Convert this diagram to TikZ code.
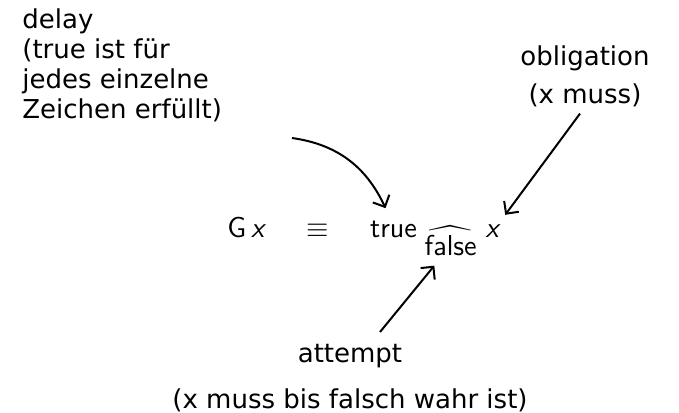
\documentclass[tikz,border=0pt]{standalone}
\usepackage{fontspec}
\usepackage{amsmath}
\newfontfamily\handfont{DejaVu Sans}
\usetikzlibrary{arrows.meta,positioning}

\begin{document}
\begin{tikzpicture}[
  x=0.5pt, y=-0.5pt,
  node distance=8mm,
  hand/.style={inner sep=0pt, font=\handfont\fontsize{13}{15}\selectfont},
  term/.style={inner sep=0pt, font=\sffamily\fontsize{14.4}{17}\selectfont},
  arr/.style={-{Straight Barb[length=1.6mm, width=3.2mm]}, line width=1pt}
]
\useasboundingbox (0,0) rectangle (679,412);

% formula
\node[term, anchor=base west] (gx) at (227,237) {G\,\textit{x}};
\node[term, base right=20pt of gx] (equiv) {$\equiv$};
\node[term, base right=20pt of equiv] (true) {true};
\node[term, anchor=base west] (false) at ([shift={(3.5pt,-9pt)}]true.base east) {$\widehat{\textsf{false}}$};
\node[term, base right=34pt of true] (xvar) {\textit{x}};

% labels
\node[hand, anchor=north west, align=left] (delay) at (22,8) {delay\\(true ist für\\jedes einzelne\\Zeichen erfüllt)};
\node[hand, anchor=north, align=center] (oblig) at (585,45) {obligation\\[4pt](x muss)};
\node[hand, anchor=north, align=center] (attempt) at (350,344) {attempt\\[8pt](x muss bis falsch wahr ist)};

\coordinate (delaytail) at (292,138);

\draw[arr] (delaytail) to[out=-8, in=115] ([shift={(-4pt,6pt)}]true.north);
\draw[arr] ([shift={(-2.5pt,-3.3pt)}]oblig.south) -- ([shift={(2pt,4.5pt)}]xvar.north east);
\draw[arr] ([shift={(15pt,6pt)}]attempt.north) -- ([shift={(5pt,-5pt)}]false.south west);
\end{tikzpicture}
\end{document}
